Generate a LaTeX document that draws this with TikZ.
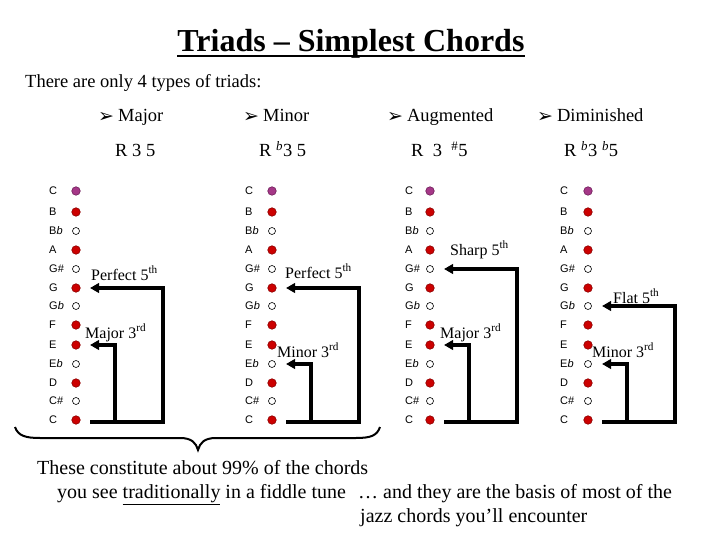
\documentclass[tikz,border=0pt]{standalone}
\usepackage{fontspec}
\setmainfont{Liberation Serif}
\newfontfamily\notefont{Liberation Sans}
\newfontfamily\symfont{DejaVu Sans}
\usetikzlibrary{arrows.meta}
\definecolor{dotred}{RGB}{204,0,0}
\definecolor{dotredline}{RGB}{140,0,0}
\definecolor{dotpurple}{RGB}{165,55,135}
\definecolor{dotpurpleline}{RGB}{110,30,90}
\newcommand{\fs}[1]{\fontsize{#1}{#1}\selectfont}
\newcommand{\flt}{\textsuperscript{\textit{b}}}
\newcommand{\bul}{{\symfont\fs{19}\raisebox{-1pt}{➢}}\hspace{4pt}}
\begin{document}
\begin{tikzpicture}[x=1pt,y=-1pt,
  notelabel/.style={anchor=west,inner sep=0pt,font=\notefont\fs{11}},
  reddot/.style={circle,inner sep=0pt,minimum size=8.5pt,fill=dotred,draw=dotredline,line width=0.6pt},
  rootdot/.style={circle,inner sep=0pt,minimum size=8.5pt,fill=dotpurple,draw=dotpurpleline,line width=0.6pt},
  hollowdot/.style={circle,inner sep=0pt,minimum size=7pt,fill=white,draw=black,line width=0.6pt},
  conn/.style={line width=3.3pt,line join=miter,-{Triangle[length=9pt,width=9.5pt]}},
  txt/.style={anchor=base west,inner sep=0pt,font=\fs{18.5}},
  interval/.style={anchor=base west,inner sep=0pt,font=\fs{16}},
  bottomtxt/.style={anchor=base west,inner sep=0pt,font=\fs{20}}]
\fill[white] (0,0) rectangle (720,540);
\useasboundingbox (0,0) rectangle (720,540);

% title and headings
\node[anchor=base,inner sep=0pt,font=\bfseries\fs{32}] (title) at (351,52) {Triads -- Simplest Chords};
\draw[line width=2.2pt] ([yshift=-4pt]title.base west) -- ([yshift=-4pt]title.base east);
\node[txt] (intro) at (25,88) {There are only 4 types of triads:};
\node[txt] (hmaj) at (98,122) {\bul Major};
\node[txt] (hmin) at (243,122) {\bul Minor};
\node[txt] (haug) at (387,122) {\bul Augmented};
\node[txt] (hdim) at (537,122) {\bul Diminished};
\node[txt] (fmaj) at (115,157) {R 3 5};
\node[txt] (fmin) at (259,157) {R \flt3 5};
\node[txt] (faug) at (411,157) {R\ \ 3\ \ \textsuperscript{\#}5};
\node[txt] (fdim) at (564,157) {R \flt3 \flt5};

% note columns
\foreach \col/\lx/\dx in {1/49/76, 2/245/272, 3/405/430, 4/560/588}{
  \foreach \n/\lab/\y/\kind in {Ct/C/191/rootdot, B/B/212/reddot, Bb/{B\textit{b}}/231/hollowdot,
      A/A/250/reddot, Gs/G\#/269/hollowdot, G/G/288/reddot, Gb/{G\textit{b}}/306/hollowdot,
      F/F/325/reddot, E/E/345/reddot, Eb/{E\textit{b}}/364/hollowdot, D/D/383/reddot,
      Cs/C\#/401/hollowdot, C/C/420/reddot}{
    \node[notelabel] (l\col\n) at (\lx,\y) {\lab};
    \node[\kind] (d\col\n) at (\dx,\y) {};
  }
}

% connectors
\foreach \col/\fifth/\third in {1/G/E, 2/G/Eb, 3/Gs/E, 4/Gb/Eb}{
  \draw[conn] ([xshift=14pt,yshift=-2pt]d\col C.center) -| ([xshift=87pt]d\col\fifth.center) -- ([xshift=14pt]d\col\fifth.center);
  \draw[conn] ([xshift=14pt,yshift=-2pt]d\col C.center) -| ([xshift=39pt]d\col\third.center) -- ([xshift=14pt]d\col\third.center);
}

% interval labels
\node[interval] (i1a) at (91,280) {Perfect 5\textsuperscript{th}};
\node[interval] (i1b) at (85,338) {Major 3\textsuperscript{rd}};
\node[interval] (i2a) at (285,278) {Perfect 5\textsuperscript{th}};
\node[interval] (i2b) at (277,357) {Minor 3\textsuperscript{rd}};
\node[interval] (i3a) at (450,255) {Sharp 5\textsuperscript{th}};
\node[interval] (i3b) at (440,338) {Major 3\textsuperscript{rd}};
\node[interval] (i4a) at (613,303) {Flat 5\textsuperscript{th}};
\node[interval] (i4b) at (592,357) {Minor 3\textsuperscript{rd}};

% brace
\draw[line width=2pt] (15,427) .. controls (18,436) and (26,438) .. (40,438)
  -- (180,438) .. controls (192,438) and (196,443) .. (198,450)
  .. controls (200,443) and (204,438) .. (216,438)
  -- (356,438) .. controls (370,438) and (377,436) .. (380,427);

% bottom text
\node[bottomtxt] (b1) at (37,474) {These constitute about 99\% of the chords};
\node[bottomtxt] (b2) at (57,498) {you see \underline{traditionally} in a fiddle tune};
\node[bottomtxt] (b3) at (358,498) {… and they are the basis of most of the};
\node[bottomtxt] (b4) at (360,522) {jazz chords you’ll encounter};
\end{tikzpicture}
\end{document}
